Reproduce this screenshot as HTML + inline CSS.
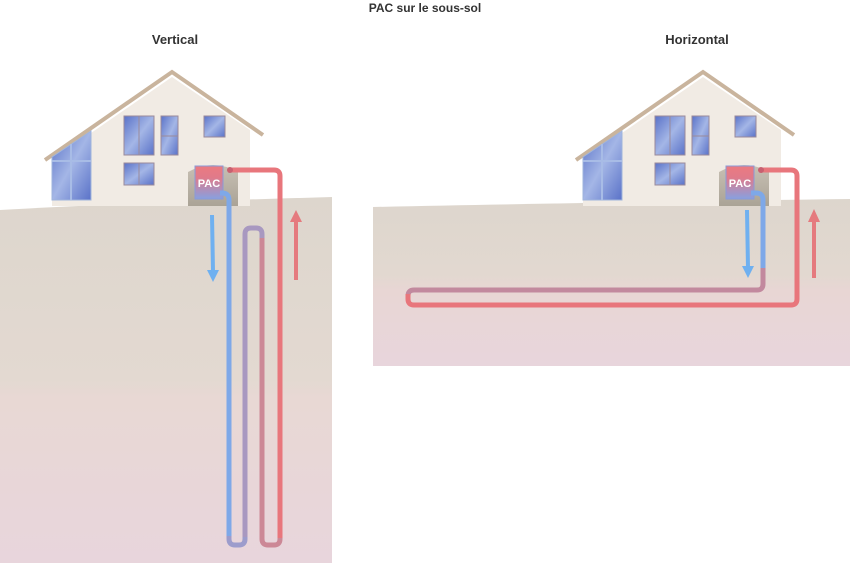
<!DOCTYPE html>
<html><head><meta charset="utf-8"><style>
html,body{margin:0;padding:0;background:#fff}
svg{display:block}
text{font-family:"Liberation Sans",sans-serif;font-weight:bold;fill:#333}
</style></head><body>
<svg width="850" height="563" viewBox="0 0 850 563" xmlns="http://www.w3.org/2000/svg">
<defs>
<linearGradient id="gl" x1="0" y1="0" x2="0" y2="1">
<stop offset="0" stop-color="#ddd6cd"/><stop offset="0.5" stop-color="#e3d9d1"/><stop offset="0.55" stop-color="#e8d8d4"/><stop offset="1" stop-color="#e8d5dc"/>
</linearGradient>
<linearGradient id="gr" x1="0" y1="0" x2="0" y2="1">
<stop offset="0" stop-color="#ddd6cd"/><stop offset="0.45" stop-color="#e2d8d0"/><stop offset="0.55" stop-color="#e8d6d4"/><stop offset="1" stop-color="#e8d5dc"/>
</linearGradient>
<linearGradient id="win" x1="0" y1="0" x2="1" y2="1">
<stop offset="0" stop-color="#5a72c8"/><stop offset="0.5" stop-color="#a4b6e6"/><stop offset="1" stop-color="#5a72c8"/>
</linearGradient>
<linearGradient id="pac" x1="0" y1="0" x2="0" y2="1">
<stop offset="0" stop-color="#ec7a80"/><stop offset="0.35" stop-color="#e07a8a"/><stop offset="1" stop-color="#88a0e0"/>
</linearGradient>
<linearGradient id="niche" x1="0" y1="0" x2="0" y2="1">
<stop offset="0" stop-color="#c8c0b4"/><stop offset="1" stop-color="#aaa396"/>
</linearGradient>
<g id="house">
<polygon points="52,160 172,77 250,130 250,206 52,206" fill="#f1ebe4"/>
<polyline points="45,160 172,72 263,135" fill="none" stroke="#c9b49d" stroke-width="4"/>
<polygon points="52,157 91,131 91,200 52,200" fill="url(#win)" stroke="#9fb4dc" stroke-width="1"/>
<line x1="71" y1="144" x2="71" y2="200" stroke="#a8bce6" stroke-width="2"/>
<line x1="52" y1="161" x2="91" y2="161" stroke="#a8bce6" stroke-width="2"/>
<rect x="124" y="116" width="30" height="39" fill="url(#win)" stroke="#9a8a9a"/>
<line x1="139" y1="116" x2="139" y2="155" stroke="#9a8a9a"/>
<rect x="161" y="116" width="17" height="39" fill="url(#win)" stroke="#9a8a9a"/>
<line x1="161" y1="136" x2="178" y2="136" stroke="#9a8a9a"/>
<rect x="204" y="116" width="21" height="21" fill="url(#win)" stroke="#9a8a9a"/>
<rect x="124" y="163" width="30" height="22" fill="url(#win)" stroke="#9a8a9a"/>
<line x1="139" y1="163" x2="139" y2="185" stroke="#9a8a9a"/>
<path d="M188,206 V172 Q213,158 238,172 V206 Z" fill="url(#niche)"/>
<rect x="195" y="166" width="28" height="33" fill="url(#pac)" stroke="#8a9ad8" stroke-width="1"/>
<text x="209" y="187" text-anchor="middle" font-size="11" style="fill:#fff">PAC</text>
</g>
</defs>
<text x="425" y="12" text-anchor="middle" font-size="12">PAC sur le sous-sol</text>
<text x="175" y="44" text-anchor="middle" font-size="13">Vertical</text>
<text x="697" y="44" text-anchor="middle" font-size="13">Horizontal</text>

<!-- left -->
<path d="M0,210 Q120,203 332,197 V563 H0 Z" fill="url(#gl)"/>
<use href="#house"/>
<g fill="none" stroke-width="5">
<path d="M229,538 V200 Q229,193 222,193 H220" stroke="#7ea8e8"/>
<path d="M229,536 V539 Q229,545 235,545 H239 Q245,545 245,539 V536" stroke="#9c9ccc"/>
<path d="M245,537 V234 Q245,228 251,228 H256 Q262,228 262,234 V240" stroke="#a898c0"/>
<path d="M262,238 V539 Q262,545 268,545 H274 Q280,545 280,539 V536" stroke="#cc8896"/>
<path d="M280,538 V176 Q280,170 274,170 H228" stroke="#e8767c"/>
</g>
<circle cx="230" cy="170" r="3" fill="#c86070"/>
<line x1="212" y1="215" x2="213" y2="272" stroke="#6fb0f0" stroke-width="4"/>
<polygon points="207,270 219,270 213,282" fill="#6fb0f0"/>
<line x1="296" y1="280" x2="296" y2="220" stroke="#e57a7e" stroke-width="4"/>
<polygon points="290,222 302,222 296,210" fill="#e57a7e"/>

<!-- right -->
<path d="M373,207 Q560,203 850,199 V366 H373 Z" fill="url(#gr)"/>
<use href="#house" x="531"/>
<g fill="none" stroke-width="5">
<path d="M763,272 V200 Q763,193 756,193 H751" stroke="#7ea8e8"/>
<path d="M763,268 V284 Q763,290 757,290 H414 Q408,290 408,296 V296" stroke="#c2899e"/>
<path d="M408,294 V299 Q408,305 414,305 H791 Q797,305 797,299 V176 Q797,170 791,170 H759" stroke="#e8767c"/>
</g>
<circle cx="761" cy="170" r="3" fill="#c86070"/>
<line x1="747" y1="210" x2="748" y2="268" stroke="#6fb0f0" stroke-width="4"/>
<polygon points="742,266 754,266 748,278" fill="#6fb0f0"/>
<line x1="814" y1="278" x2="814" y2="220" stroke="#e57a7e" stroke-width="4"/>
<polygon points="808,222 820,222 814,209" fill="#e57a7e"/>
</svg>
</body></html>
